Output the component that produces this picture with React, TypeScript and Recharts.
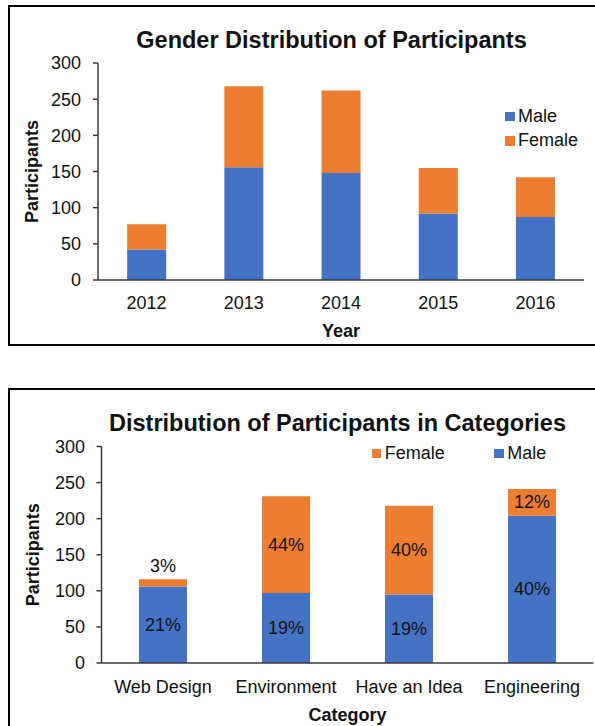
import { BarChart, Bar, XAxis, YAxis, Legend, LabelList } from "recharts";

const FONT = '"Liberation Sans", Arial, sans-serif';
const BLUE = "#4472C4";
const ORANGE = "#ED7D31";
const INK = "#111";
const AXIS = "#3a3a3a";

// chart 1: participants per year
const years = ["2012", "2013", "2014", "2015", "2016"];
const maleByYear = [42, 156, 148, 92, 87];
const femaleByYear = [35, 112, 114, 63, 55];

// chart 2: participants per category
const categories = ["Web Design", "Environment", "Have an Idea", "Engineering"];
const maleByCategory = [106, 97, 95, 204];
const femaleByCategory = [10, 134, 123, 37];
const maleShare = ["21%", "19%", "19%", "40%"];
const femaleShare = ["3%", "44%", "40%", "12%"];

const yTicks = [0, 50, 100, 150, 200, 250, 300];

const yearData = years.map((year, i) => ({
  year,
  male: maleByYear[i],
  female: femaleByYear[i],
}));

const categoryData = categories.map((category, i) => ({
  category,
  male: maleByCategory[i],
  female: femaleByCategory[i],
  maleShare: maleShare[i],
  femaleShare: femaleShare[i],
}));

const tickStyle = { fontSize: 18, fill: INK, fontFamily: FONT };
const axisTitleStyle = {
  fontSize: 18,
  fontWeight: 700,
  fill: INK,
  fontFamily: FONT,
  textAnchor: "middle" as const,
};

function Frame({ top, height }: { top: number; height: number }) {
  return (
    <div
      style={{
        position: "absolute",
        left: 8,
        top,
        width: 620,
        height,
        border: "2px solid #000",
        boxSizing: "border-box",
      }}
    />
  );
}

function Title({ text, cx, top }: { text: string; cx: number; top: number }) {
  return (
    <div
      style={{
        position: "absolute",
        left: cx,
        top,
        transform: "translateX(-50%)",
        whiteSpace: "nowrap",
        fontFamily: FONT,
        fontWeight: 700,
        fontSize: 23.5,
        lineHeight: "28px",
        color: INK,
      }}
    >
      {text}
    </div>
  );
}

type LegendItem = { label: string; color: string; width?: number };

function LegendBox({ items, vertical }: { items: LegendItem[]; vertical?: boolean }) {
  return (
    <div style={{ display: "flex", flexDirection: vertical ? "column" : "row", fontFamily: FONT }}>
      {items.map((item) => (
        <div
          key={item.label}
          style={{
            display: "flex",
            alignItems: "center",
            height: vertical ? 24.5 : 20,
            width: item.width,
            fontSize: 18,
            color: INK,
          }}
        >
          <span
            style={{
              display: "inline-block",
              width: 9.5,
              height: 9.5,
              background: item.color,
              marginRight: 3.5,
            }}
          />
          {item.label}
        </div>
      ))}
    </div>
  );
}

// percent labels: centred in the segment, or just above it if the segment is thin
function ShareLabel(props: any) {
  const { x, y, width, height, value } = props;
  const h = Math.abs(Number(height));
  const top = Math.min(Number(y), Number(y) + Number(height));
  const cx = Number(x) + Number(width) / 2;
  const cy = h < 20 ? top - 13 : top + h / 2;
  return (
    <text
      x={cx}
      y={cy}
      textAnchor="middle"
      dominantBaseline="central"
      fontSize={18}
      fill={INK}
      fontFamily={FONT}
    >
      {value}
    </text>
  );
}

function YearChart() {
  return (
    <div style={{ position: "absolute", left: 0, top: 0 }}>
      <BarChart
        width={595}
        height={350}
        data={yearData}
        margin={{ top: 63, right: 11, bottom: 10, left: 0 }}
        barCategoryGap="30%"
      >
        <XAxis
          dataKey="year"
          height={60}
          interval={0}
          tick={tickStyle}
          tickLine={false}
          tickSize={0}
          tickMargin={16.5}
          stroke={AXIS}
          strokeWidth={1.5}
          label={{ value: "Year", position: "insideBottom", offset: 3, style: axisTitleStyle }}
        />
        <YAxis
          width={98}
          domain={[0, 300]}
          ticks={yTicks}
          tick={tickStyle}
          tickSize={5}
          tickMargin={12}
          stroke={AXIS}
          strokeWidth={1.5}
          label={{
            value: "Participants",
            angle: -90,
            position: "insideLeft",
            offset: 32,
            style: axisTitleStyle,
          }}
        />
        <Legend
          layout="vertical"
          align="center"
          verticalAlign="middle"
          wrapperStyle={{ left: 505, top: 104, width: "auto" }}
          content={() => (
            <LegendBox
              vertical
              items={[
                { label: "Male", color: BLUE },
                { label: "Female", color: ORANGE },
              ]}
            />
          )}
        />
        <Bar dataKey="male" name="Male" stackId="g" fill={BLUE} isAnimationActive={false} />
        <Bar dataKey="female" name="Female" stackId="g" fill={ORANGE} isAnimationActive={false} />
      </BarChart>
    </div>
  );
}

function CategoryChart() {
  return (
    <div style={{ position: "absolute", left: 0, top: 380 }}>
      <BarChart
        width={595}
        height={346}
        data={categoryData}
        margin={{ top: 66.5, right: 1.5, bottom: 0, left: 0 }}
        barCategoryGap="30.5%"
      >
        <XAxis
          dataKey="category"
          height={63}
          interval={0}
          tick={tickStyle}
          tickLine={false}
          tickSize={0}
          tickMargin={17}
          stroke={AXIS}
          strokeWidth={1.5}
          label={{ value: "Category", position: "insideBottom", offset: 5.5, style: axisTitleStyle }}
        />
        <YAxis
          width={101.5}
          domain={[0, 300]}
          ticks={yTicks}
          tick={tickStyle}
          tickSize={5}
          tickMargin={11.5}
          stroke={AXIS}
          strokeWidth={1.5}
          label={{
            value: "Participants",
            angle: -90,
            position: "insideLeft",
            offset: 33,
            style: axisTitleStyle,
          }}
        />
        <Legend
          layout="horizontal"
          align="center"
          verticalAlign="middle"
          wrapperStyle={{ left: 371.7, top: 63.5, width: "auto" }}
          content={() => (
            <LegendBox
              items={[
                { label: "Female", color: ORANGE, width: 122.6 },
                { label: "Male", color: BLUE },
              ]}
            />
          )}
        />
        <Bar dataKey="male" name="Male" stackId="c" fill={BLUE} isAnimationActive={false}>
          <LabelList dataKey="maleShare" content={ShareLabel} />
        </Bar>
        <Bar dataKey="female" name="Female" stackId="c" fill={ORANGE} isAnimationActive={false}>
          <LabelList dataKey="femaleShare" content={ShareLabel} />
        </Bar>
      </BarChart>
    </div>
  );
}

export default function App() {
  return (
    <div
      style={{
        position: "absolute",
        left: 0,
        top: 0,
        width: 595,
        height: 726,
        overflow: "hidden",
        background: "#fff",
      }}
    >
      <Frame top={5} height={341} />
      <Frame top={388} height={360} />
      <Title text="Gender Distribution of Participants" cx={331.5} top={25.5} />
      <Title text="Distribution of Participants in Categories" cx={337.5} top={409} />
      <YearChart />
      <CategoryChart />
    </div>
  );
}
